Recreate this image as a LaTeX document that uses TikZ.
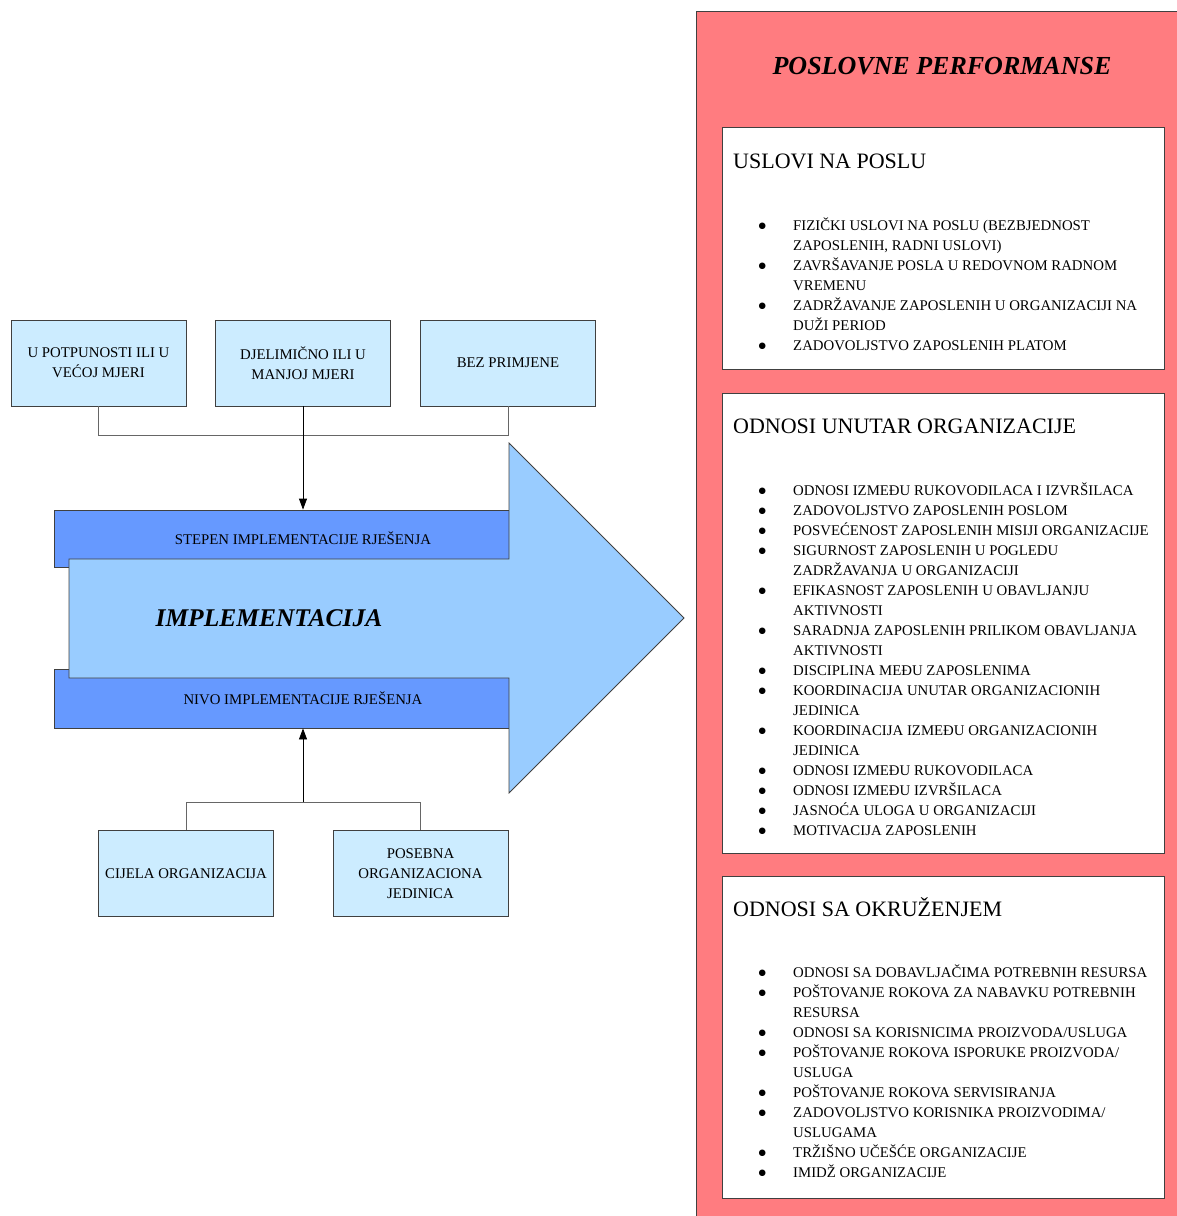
\documentclass[tikz,border=0pt]{standalone}
\usepackage{fontspec}
\setmainfont{Liberation Serif}
\newfontfamily\simboli{DejaVu Sans}
\usepackage{tikz}
\usetikzlibrary{calc}
\usetikzlibrary{positioning}
\usetikzlibrary{arrows.meta}

\definecolor{crvena}{HTML}{FF7C80}
\definecolor{svijetla}{HTML}{CCECFF}
\definecolor{strelboja}{HTML}{99CCFF}
\definecolor{trakboja}{HTML}{6699FF}
\definecolor{okvir}{HTML}{404040}

\newcommand{\sitno}{\fontsize{14.8}{20}\selectfont}
\newcommand{\tocka}{\raisebox{1.5pt}{\simboli\fontsize{8.5}{10}\selectfont ●}}

\begin{document}
\begin{tikzpicture}[x=1pt,y=-1pt,
    kutija/.style={draw=okvir,line width=0.8pt,fill=svijetla,minimum width=175pt,
      minimum height=86pt,align=center,inner sep=0pt,font=\sitno},
    pojas/.style={draw=okvir,line width=0.8pt,fill=trakboja,minimum width=455pt,inner sep=0pt},
    bijela/.style={draw=okvir,line width=0.8pt,fill=white,anchor=north west,
      minimum width=442pt,inner sep=0pt},
    naslov/.style={anchor=base west,inner sep=0pt,font=\fontsize{22}{26}\selectfont},
    lista/.style={anchor=base west,inner sep=0pt,font=\sitno},
    spoj/.style={draw=okvir!80,line width=0.8pt},
    strel/.style={draw=black,line width=0.8pt,-{Triangle[length=11pt,width=8pt]}}
  ]
  \useasboundingbox (0,0) rectangle (1176,1216);

  % desna strana
  \node[draw=okvir,line width=0.8pt,fill=crvena,anchor=north west,inner sep=0pt,
    minimum width=520pt,minimum height=1230pt] (performanse) at (696,11) {};
  \node[inner sep=0pt,font=\fontsize{26}{30}\selectfont\bfseries\itshape] (naslov) at (942,66)
    {POSLOVNE PERFORMANSE};

  \node[bijela,minimum height=242pt] (uslovi) at (722,127) {};
  \node[bijela,minimum height=460pt] (unutar) at (722,393) {};
  \node[bijela,minimum height=322pt] (okruzenje) at (722,876) {};

  \node[naslov] (uslovinasl) at (733,168) {USLOVI NA POSLU};
  \node[naslov] (unutarnasl) at (733,433) {ODNOSI UNUTAR ORGANIZACIJE};
  \node[naslov] (okruzenjenasl) at (733,916) {ODNOSI SA OKRUŽENJEM};

  \node[lista] (uslovilista) at (758.5,230) {\begin{tabular}[t]{@{}p{34.5pt}@{}l@{}}
    \tocka & FIZIČKI USLOVI NA POSLU (BEZBJEDNOST\\
    & ZAPOSLENIH, RADNI USLOVI)\\
    \tocka & ZAVRŠAVANJE POSLA U REDOVNOM RADNOM\\
    & VREMENU\\
    \tocka & ZADRŽAVANJE ZAPOSLENIH U ORGANIZACIJI NA\\
    & DUŽI PERIOD\\
    \tocka & ZADOVOLJSTVO ZAPOSLENIH PLATOM
  \end{tabular}};

  \node[lista] (unutarlista) at (758.5,495) {\begin{tabular}[t]{@{}p{34.5pt}@{}l@{}}
    \tocka & ODNOSI IZMEĐU RUKOVODILACA I IZVRŠILACA\\
    \tocka & ZADOVOLJSTVO ZAPOSLENIH POSLOM\\
    \tocka & POSVEĆENOST ZAPOSLENIH MISIJI ORGANIZACIJE\\
    \tocka & SIGURNOST ZAPOSLENIH U POGLEDU\\
    & ZADRŽAVANJA U ORGANIZACIJI\\
    \tocka & EFIKASNOST ZAPOSLENIH U OBAVLJANJU\\
    & AKTIVNOSTI\\
    \tocka & SARADNJA ZAPOSLENIH PRILIKOM OBAVLJANJA\\
    & AKTIVNOSTI\\
    \tocka & DISCIPLINA MEĐU ZAPOSLENIMA\\
    \tocka & KOORDINACIJA UNUTAR ORGANIZACIONIH\\
    & JEDINICA\\
    \tocka & KOORDINACIJA IZMEĐU ORGANIZACIONIH\\
    & JEDINICA\\
    \tocka & ODNOSI IZMEĐU RUKOVODILACA\\
    \tocka & ODNOSI IZMEĐU IZVRŠILACA\\
    \tocka & JASNOĆA ULOGA U ORGANIZACIJI\\
    \tocka & MOTIVACIJA ZAPOSLENIH
  \end{tabular}};

  \node[lista] (okruzenjelista) at (758.5,977) {\begin{tabular}[t]{@{}p{34.5pt}@{}l@{}}
    \tocka & ODNOSI SA DOBAVLJAČIMA POTREBNIH RESURSA\\
    \tocka & POŠTOVANJE ROKOVA ZA NABAVKU POTREBNIH\\
    & RESURSA\\
    \tocka & ODNOSI SA KORISNICIMA PROIZVODA/USLUGA\\
    \tocka & POŠTOVANJE ROKOVA ISPORUKE PROIZVODA/\\
    & USLUGA\\
    \tocka & POŠTOVANJE ROKOVA SERVISIRANJA\\
    \tocka & ZADOVOLJSTVO KORISNIKA PROIZVODIMA/\\
    & USLUGAMA\\
    \tocka & TRŽIŠNO UČEŠĆE ORGANIZACIJE\\
    \tocka & IMIDŽ ORGANIZACIJE
  \end{tabular}};

  % lijeva strana
  \node[kutija] (potpuno) at (98.5,363) {U POTPUNOSTI ILI U\\VEĆOJ MJERI};
  \node[kutija] (djelimicno) at (303,363) {DJELIMIČNO ILI U\\MANJOJ MJERI};
  \node[kutija] (bez) at (508,363) {BEZ PRIMJENE};
  \node[kutija] (cijela) at (186,873.5) {CIJELA ORGANIZACIJA};
  \node[kutija] (posebna) at (420.5,873.5) {POSEBNA\\ORGANIZACIONA\\JEDINICA};

  \node[pojas,minimum height=57pt] (stepen) at (281.5,538.5) {};
  \node[pojas,minimum height=59pt] (nivo) at (281.5,698.5) {};

  \draw[draw=okvir,line width=0.8pt,fill=strelboja]
    (69,559) -- (509,559) -- (509,443) -- (684,618) -- (509,793) -- (509,678) -- (69,678) -- cycle;

  \node[inner sep=0pt,font=\sitno] (stepentxt) at (303,538) {STEPEN IMPLEMENTACIJE RJEŠENJA};
  \node[inner sep=0pt,font=\sitno] (nivotxt) at (303,698) {NIVO IMPLEMENTACIJE RJEŠENJA};
  \node[inner sep=0pt,font=\fontsize{25.5}{30}\selectfont\bfseries\itshape] (impl) at (269,618)
    {IMPLEMENTACIJA};

  % spojevi
  \draw[spoj] (potpuno.south) -- ++(0,29) -| (bez.south);
  \draw[strel] (djelimicno.south) -- (djelimicno.south |- stepen.north);
  \coordinate (dole) at (303,802);
  \draw[spoj] (cijela.north) |- (dole) -| (posebna.north);
  \draw[strel] (dole) -- (dole |- nivo.south);
\end{tikzpicture}
\end{document}
